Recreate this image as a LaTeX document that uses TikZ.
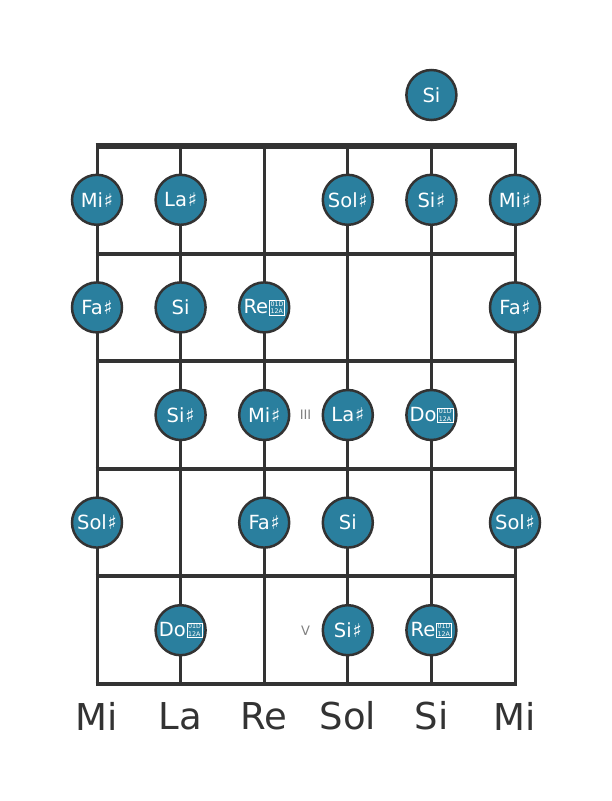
\documentclass[tikz,border=0pt]{standalone}
\usepackage{fontspec}
\setmainfont{DejaVu Sans}
\definecolor{dotfill}{HTML}{2A7F9E}
\definecolor{ink}{HTML}{333333}
\newcommand{\shp}{\kern0.8pt{\fontsize{19}{19}\selectfont ♯}}
\newcommand{\dshp}{\kern0.8pt{\setlength{\fboxsep}{0.8pt}\setlength{\fboxrule}{0.7pt}\fbox{\vbox{\fontsize{6.3}{7.6}\selectfont\hbox{01D}\hbox{12A}}}}}
\tikzset{
  note/.style={circle, draw=ink, line width=2.5pt, fill=dotfill, minimum size=50pt, inner sep=0pt, text=white, font=\fontsize{19.5}{19.5}\selectfont},
  fretline/.style={draw=ink, line width=4pt},
  nutline/.style={draw=ink, line width=6pt},
  stringline/.style={draw=ink, line width=3pt},
  strlabel/.style={text=ink, font=\fontsize{37}{37}\selectfont, anchor=center},
  fretnum/.style={text=gray, font=\fontsize{13}{13}\selectfont}
}
\begin{document}
\begin{tikzpicture}[x=1pt,y=-1pt]
\useasboundingbox (0,0) rectangle (611,801);
% coordinates
\foreach \i/\x in {1/97,2/180.6,3/264.2,4/347.8,5/431.4,6/515}{
  \coordinate (st\i) at (\x,146);
  \coordinate (sb\i) at (\x,684);
}
\foreach \j/\y in {0/146,1/253.6,2/361.2,3/468.8,4/576.4,5/684}{
  \coordinate (fl\j) at (97,\y);
  \coordinate (fr\j) at (515,\y);
}
% strings
\foreach \i in {1,...,6}{ \draw[stringline] (st\i) -- (sb\i); }
% frets
\foreach \j in {1,...,5}{ \draw[fretline] ([xshift=-1.5pt]fl\j) -- ([xshift=1.5pt]fr\j); }
\draw[nutline] ([xshift=-1.5pt]fl0) -- ([xshift=1.5pt]fr0);
% fret numbers
\node[fretnum] (f3) at (305.5,414.5) {III};
\node[fretnum] (f5) at (305.5,630.5) {V};
% open
\node[note] (o5) at (431.4,95) {Si};
% row 1
\node[note] (a1) at (97,199.8) {Mi\shp};
\node[note] (a2) at (180.6,199.8) {La\shp};
\node[note] (a4) at (347.8,199.8) {Sol\shp};
\node[note] (a5) at (431.4,199.8) {Si\shp};
\node[note] (a6) at (515,199.8) {Mi\shp};
% row 2
\node[note] (b1) at (97,307.4) {Fa\shp};
\node[note] (b2) at (180.6,307.4) {Si};
\node[note] (b3) at (264.2,307.4) {Re\dshp};
\node[note] (b6) at (515,307.4) {Fa\shp};
% row 3
\node[note] (c2) at (180.6,415) {Si\shp};
\node[note] (c3) at (264.2,415) {Mi\shp};
\node[note] (c4) at (347.8,415) {La\shp};
\node[note] (c5) at (431.4,415) {Do\dshp};
% row 4
\node[note] (d1) at (97,522.6) {Sol\shp};
\node[note] (d3) at (264.2,522.6) {Fa\shp};
\node[note] (d4) at (347.8,522.6) {Si};
\node[note] (d6) at (515,522.6) {Sol\shp};
% row 5
\node[note] (e2) at (180.6,630.2) {Do\dshp};
\node[note] (e4) at (347.8,630.2) {Si\shp};
\node[note] (e5) at (431.4,630.2) {Re\dshp};
% string names
\node[strlabel] (n1) at (97,716) {Mi};
\node[strlabel] (n2) at (180.6,716) {La};
\node[strlabel] (n3) at (264.2,716) {Re};
\node[strlabel] (n4) at (347.8,716) {Sol};
\node[strlabel] (n5) at (431.4,716) {Si};
\node[strlabel] (n6) at (515,716) {Mi};
\end{tikzpicture}
\end{document}
